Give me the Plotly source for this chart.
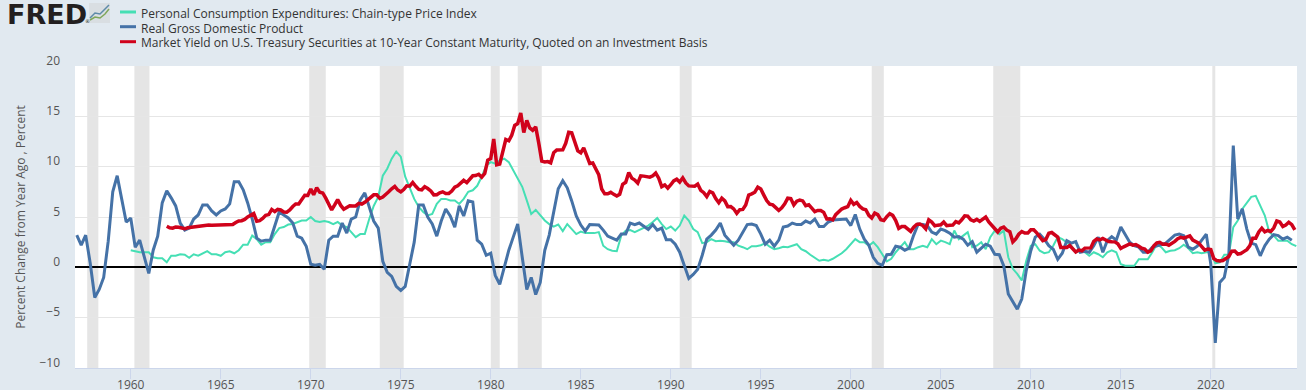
import pandas as pd
import plotly.graph_objects as go

pce_name = "Personal Consumption Expenditures: Chain-type Price Index"
gdp_name = "Real Gross Domestic Product"
yld_name = "Market Yield on U.S. Treasury Securities at 10-Year Constant Maturity, Quoted on an Investment Basis"
y_title = "Percent Change from Year Ago , Percent"

gdp_start = "1957-01-01"
gdp = [
 3.2,2.2,3.2,0.4, -3.0,-2.2,-1.0,2.6, 7.5,9.1,6.8,4.5, 4.9,2.0,2.7,1.0, -0.6,1.7,3.1,6.4,
 7.6,6.9,6.1,4.4, 3.7,3.9,4.8,5.2, 6.2,6.2,5.6,5.2, 5.6,5.8,6.3,8.5, 8.5,7.7,6.4,4.8,
 2.9,2.6,2.7,2.7, 4.0,5.5,5.2,4.9, 4.4,3.1,2.9,2.1, 0.3,0.2,0.3,-0.2, 2.7,3.1,3.1,4.4,
 3.4,4.8,5.0,6.7, 7.4,5.9,4.6,3.9, 0.6,-0.5,-0.9,-1.9, -2.3,-1.9,0.2,2.5, 6.2,6.2,5.0,4.3,
 3.1,4.6,5.8,5.1, 4.0,6.1,5.1,6.6, 6.5,2.7,2.3,1.2, 1.4,-0.8,-1.7,0.0, 1.7,3.0,4.3,1.0,
 -2.2,-1.0,-2.7,-1.5, 1.7,3.2,5.6,7.8, 8.6,7.9,6.6,5.1, 4.2,3.6,4.25,4.2, 4.2,3.7,3.1,2.9,
 2.7,3.3,3.3,4.4, 4.25,4.4,4.1,3.75, 4.25,3.7,3.9,2.75, 2.75,2.3,1.5,0.3, -1.1,-0.7,-0.2,1.2,
 2.8,3.2,3.7,4.4, 3.2,2.7,2.2,2.7, 3.5,4.25,4.3,4.15, 3.3,2.3,2.7,2.1, 2.7,4.0,4.1,4.4,
 4.25,4.25,4.6,4.4, 4.8,4.05,4.05,4.5, 4.7,4.75,4.8,4.8, 4.15,5.25,3.8,2.8, 2.2,1.0,0.4,0.2,
 1.25,1.3,2.1,2.0, 1.7,1.9,3.2,4.3, 4.25,4.15,3.5,3.3, 3.8,3.65,3.4,3.0, 3.05,2.8,2.2,2.55,
 1.5,1.9,2.3,2.1, 1.3,1.25,0.15,-2.65, -3.4,-4.15,-3.15,-0.3, 1.65,3.0,3.3,2.8, 2.15,1.8,0.8,1.4,
 2.65,2.4,2.55,1.5, 1.6,1.5,2.15,3.0, 1.5,2.65,3.05,2.7, 4.0,3.3,2.5,2.15, 2.0,1.5,1.5,2.0,
 2.15,2.3,2.4,2.8, 3.2,3.3,3.15,2.0, 1.8,2.1,2.65,3.3, 0.3,-7.5,-1.5,-1.0, 1.3,12.1,4.8,5.8,
 3.8,2.4,2.25,1.15, 2.15,2.8,3.25,3.15, 2.8,3.0,2.7,
]

pce_start = "1960-01-01"
pce = [
 1.7,1.6,1.5,1.5, 1.5,1.0,0.9,0.9, 0.5,1.15,1.15,1.3, 1.25,0.95,1.3,1.15, 1.4,1.6,1.3,1.3,
 1.15,1.5,1.6,1.4, 1.7,2.25,2.25,3.15, 2.8,2.25,2.5,2.5, 3.3,3.9,4.0,4.25, 4.3,4.5,4.65,4.65,
 5.0,4.6,4.5,4.6, 4.5,4.3,4.5,4.15, 4.0,3.5,3.0,3.3, 3.3,4.8,6.1,7.0, 9.1,9.8,10.8,11.5,
 11.0,9.0,7.8,6.8, 6.0,5.5,5.15,5.3, 6.3,6.8,6.8,6.65, 6.65,6.3,6.8,7.5, 7.65,8.1,9.0,10.1,
 10.45,10.3,10.6,10.8, 10.45,9.6,8.8,8.0, 6.65,5.3,5.7,5.15, 4.65,4.3,4.05,4.25, 3.6,4.3,3.8,3.3,
 3.55,3.4,3.4,3.4, 3.5,2.15,1.8,1.65, 1.6,3.15,3.65,3.7, 3.5,3.7,3.9,4.15, 4.5,4.9,4.3,3.8,
 4.05,3.65,4.15,5.15, 4.65,3.8,3.5,2.4, 2.5,2.8,2.6,2.65, 2.6,2.5,2.5,2.15, 2.0,1.8,2.1,2.1,
 2.2,2.4,2.05,1.8, 1.9,2.05,2.0,2.15, 2.3,1.8,1.6,1.25, 0.9,0.65,0.75,0.65, 0.85,1.15,1.4,1.8,
 2.3,2.8,2.5,2.5, 2.15,2.5,2.0,1.3, 0.6,0.85,1.5,2.0, 2.5,1.8,1.8,2.0, 2.15,2.0,2.8,2.3,
 2.65,2.5,2.3,3.65, 2.8,3.15,3.5,2.0, 2.15,2.5,1.8,3.0, 3.65,3.3,3.65,1.0, -0.15,-0.65,-1.3,0.65,
 2.15,2.3,1.65,1.4, 1.5,2.15,3.0,2.8, 2.5,2.15,1.5,1.65, 1.5,1.15,1.5,1.3, 1.0,1.5,1.7,1.5,
 0.3,0.15,0.15,0.15, 0.8,0.8,0.8,1.5, 2.3,2.0,1.5,1.65, 1.7,1.9,2.25,1.9, 1.4,1.5,1.4,1.5,
 1.5,0.4,0.5,1.25, 1.25,4.0,4.65,5.8, 6.45,7.0,7.1,6.15, 5.15,3.5,3.15,2.65, 2.65,2.65,2.3,2.1,
]

yld_start = "1962-01-01"
yld = [
 4.08,3.93,3.89,4.01,3.98,3.92, 3.83,3.93,3.97,4.02,4.08,4.12, 4.17,4.22,4.20,4.19,4.20,4.15,
 4.19,4.21,4.21,4.20,4.25,4.45, 4.61,4.63,4.76,5.00,5.18,5.35, 4.58,4.63,4.85,5.16,5.24,5.75,
 5.53,5.76,5.70,5.50,5.48,5.70, 6.04,6.30,6.30,6.72,7.16,7.14, 7.79,7.21,7.90,7.46,7.39,6.87,
 6.24,5.70,6.20,6.73,6.15,5.78, 5.95,6.12,6.10,6.10,6.35,6.28, 6.46,6.70,6.85,7.20,7.20,6.85,
 6.99,7.20,7.50,7.80,8.04,7.68, 7.50,7.73,8.10,8.06,8.43,8.05, 7.74,7.70,8.00,7.83,7.59,7.20,
 7.21,7.40,7.50,7.33,7.34,7.58, 7.96,8.11,8.35,8.64,8.42,8.81, 9.10,9.12,9.25,8.95,9.33,10.65,
 10.80,12.75,10.18,10.25,11.50,12.70, 12.57,13.12,14.10,14.28,15.32,13.39, 14.59,13.86,13.62,13.95,12.34,10.55,
 10.46,10.51,10.38,11.38,11.65,11.69, 11.67,12.32,13.41,13.36,12.52,11.57, 11.38,11.86,11.10,10.31,10.37,9.78,
 9.19,7.78,7.30,7.30,7.45,7.25, 7.08,7.25,8.25,8.45,9.42,8.86, 8.67,8.37,9.09,9.06,8.98,8.96,
 9.09,9.36,8.86,8.02,8.19,7.87, 8.21,8.59,8.76,8.47,8.89,8.39, 8.09,8.11,8.06,8.27,7.65,7.42,
 7.03,7.54,7.39,6.84,6.42,6.87, 6.60,6.03,6.04,5.81,5.36,5.72, 5.75,6.19,7.18,7.30,7.46,7.96,
 7.78,7.20,6.63,6.28,6.20,5.93, 5.65,5.91,6.30,6.87,6.83,6.20, 6.58,6.69,6.60,6.12,6.21,5.88,
 5.54,5.65,5.65,5.46,4.81,4.83, 4.72,5.23,5.54,5.79,5.92,6.03, 6.66,6.26,6.44,6.05,5.80,5.72,
 5.16,4.89,5.39,5.24,4.73,4.65, 5.04,5.33,5.16,4.65,3.87,4.05, 4.05,3.81,3.57,3.98,4.27,4.30,
 4.15,3.83,4.72,4.50,4.13,4.19, 4.22,4.50,4.14,4.18,4.20,4.54, 4.42,4.72,5.11,5.09,4.72,4.60,
 4.76,4.56,4.75,5.00,4.52,4.15, 3.74,3.51,3.88,4.01,3.69,3.53, 2.52,2.82,3.29,3.56,3.40,3.40,
 3.73,3.73,3.42,3.01,2.65,2.76, 3.39,3.46,3.17,3.00,1.98,2.01, 1.97,2.17,1.80,1.53,1.72,1.65,
 1.91,1.96,1.93,2.58,2.81,2.72, 2.86,2.72,2.56,2.54,2.53,2.33, 1.88,2.04,2.20,2.32,2.20,2.26,
 2.09,1.89,1.81,1.50,1.63,2.14, 2.43,2.48,2.30,2.32,2.20,2.35, 2.58,2.84,2.98,2.89,3.00,3.12,
 2.71,2.57,2.40,2.06,1.70,1.81, 1.76,0.87,0.67,0.62,0.68,0.87, 1.08,1.61,1.62,1.32,1.37,1.56,
 1.76,2.13,2.90,2.90,3.52,3.89, 3.53,3.66,3.57,3.90,4.60,4.50, 4.06,4.21,4.48,4.25,3.72,
]

rec_start = ["1957-08-01","1960-03-15","1969-12-01","1973-11-01","1980-01-01","1981-07-01",
             "1990-07-01","2001-03-01","2007-12-01","2020-02-01"]
rec_end = ["1958-03-15","1961-01-15","1970-11-01","1975-03-01","1980-07-01","1982-11-01",
           "1991-03-01","2001-11-01","2009-06-01","2020-04-01"]

x_ticks = ["%d-01-01" % y for y in range(1960, 2021, 5)]
y_ticks = [-10, -5, 0, 5, 10, 15, 20]

PCE_C, GDP_C, YLD_C = "#45DFB4", "#4572A7", "#D0021B"
BG = "#E1E9F0"
W, H = 1306, 390
L, R, T, B = 75, 9, 66, 22

fig = go.Figure()
fig.add_trace(go.Scatter(x=pd.date_range(pce_start, periods=len(pce), freq="QS"), y=pce, name=pce_name,
                         mode="lines", line=dict(color=PCE_C, width=2)))
fig.add_trace(go.Scatter(x=pd.date_range(gdp_start, periods=len(gdp), freq="QS"), y=gdp, name=gdp_name,
                         mode="lines", line=dict(color=GDP_C, width=3)))
fig.add_trace(go.Scatter(x=pd.date_range(yld_start, periods=len(yld), freq="2MS"), y=yld, name=yld_name,
                         mode="lines", line=dict(color=YLD_C, width=3.5)))

shapes = [dict(type="rect", xref="x", yref="paper", x0=a, x1=b, y0=0, y1=1,
               fillcolor="#E5E5E5", line_width=0, layer="below")
          for a, b in zip(rec_start, rec_end)]

def px(v): return (v - L) / (W - L - R)
def py(v): return 1 - (v - T) / (H - T - B)

annotations = []
# legend keys and labels
for name, colr, yy, ky in zip([pce_name, gdp_name, yld_name], [PCE_C, GDP_C, YLD_C], [13.5, 28, 42.5], [12, 26.7, 41.7]):
    shapes.append(dict(type="line", xref="paper", yref="paper", x0=px(120), x1=px(136), y0=py(ky), y1=py(ky),
                       line=dict(color=colr, width=3)))
    annotations.append(dict(text=name, xref="paper", yref="paper", x=px(139), y=py(yy), xanchor="left",
                            yanchor="middle", showarrow=False, font=dict(family="Open Sans", size=12, color="#333333")))

# FRED wordmark and small icon
annotations.append(dict(text="<b>FRED</b>", xref="paper", yref="paper", x=px(5), y=py(14), xanchor="left",
                        yanchor="middle", showarrow=False, font=dict(family="DejaVu Sans", size=27, color="#231F20")))
annotations.append(dict(text="®", xref="paper", yref="paper", x=px(83), y=py(21), xanchor="left",
                        yanchor="middle", showarrow=False, font=dict(family="DejaVu Sans", size=5, color="#231F20")))
shapes.append(dict(type="rect", xref="paper", yref="paper", x0=px(89), x1=px(110), y0=py(23), y1=py(3),
                   fillcolor="#D9DEE2", line_width=0))
shapes.append(dict(type="path", xref="paper", yref="paper",
                   path=f"M {px(90)} {py(18)} L {px(95)} {py(13)} L {px(100)} {py(14)} L {px(105)} {py(9)} L {px(109)} {py(5)}",
                   line=dict(color="#5E8AA8", width=1.5)))
shapes.append(dict(type="path", xref="paper", yref="paper",
                   path=f"M {px(90)} {py(20)} L {px(95)} {py(17)} L {px(100)} {py(18)} L {px(105)} {py(14)} L {px(109)} {py(9)}",
                   line=dict(color="#7FA65A", width=1.5)))

fig.update_layout(
    width=W, height=H, autosize=False,
    margin=dict(l=L, r=R, t=T, b=B, pad=0),
    paper_bgcolor=BG, plot_bgcolor="#FFFFFF",
    showlegend=False,
    font=dict(family="Open Sans", size=12, color="#555555"),
    shapes=shapes, annotations=annotations,
    xaxis=dict(type="date", range=["1956-11-26", "2024-10-15"], tickvals=x_ticks, tickformat="%Y", automargin=False,
               ticks="outside", ticklen=10, tickcolor="#CCD6EB", tickwidth=1, ticklabelstandoff=-4,
               showline=True, linecolor="#CCD6EB", linewidth=1, showgrid=False, zeroline=False,
               tickfont=dict(size=12, color="#555555")),
    yaxis=dict(range=[-10, 20], tickvals=y_ticks, showgrid=True, gridcolor="#E6E6E6", gridwidth=1, automargin=False,
               zeroline=True, zerolinecolor="#000000", zerolinewidth=2, ticks="",
               ticklabelposition="outside top", ticklabelstandoff=14, ticklabelshift=3,
               tickfont=dict(size=12, color="#555555"),
               title=dict(text=y_title, font=dict(size=12, color="#555555"), standoff=11)),
)
fig.write_html("out.html", config=dict(displayModeBar=False),
               post_script="document.body.style.margin='0';document.body.style.background='#E1E9F0';document.documentElement.style.overflow='hidden';")
